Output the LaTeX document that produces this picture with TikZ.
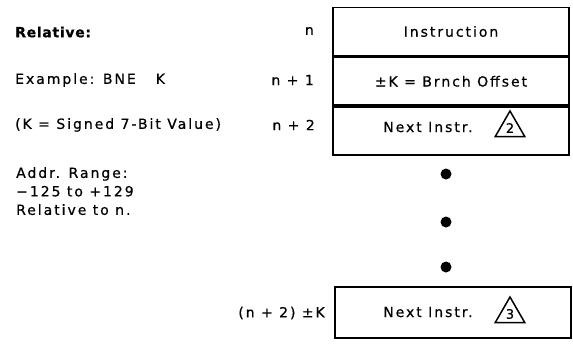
\documentclass[tikz,border=0pt]{standalone}
\usepackage{fontspec}
\setmainfont{DejaVu Sans}[LetterSpace=14, FakeBold=0.6]
\usetikzlibrary{positioning, shapes.geometric}

\begin{document}
\begin{tikzpicture}[x=1pt, y=-1pt,
    font=\fontsize{14}{17}\selectfont,
    cell/.style={rectangle, draw, line width=1.8pt, minimum width=236pt, minimum height=48pt, inner sep=0pt},
    note/.style={anchor=west, inner sep=0pt},
    addr/.style={anchor=east, inner sep=0pt},
    tri/.style={regular polygon, regular polygon sides=3, draw, line width=1.5pt, minimum size=34pt, inner sep=0pt, font=\fontsize{13}{13}\selectfont},
    dot/.style={circle, fill, minimum size=11pt, inner sep=0pt}
]
\useasboundingbox (0,0) rectangle (573,349);

% memory cells
\node[cell] (instr) at (451,31.5) {Instruction};
\node[cell, below=0pt of instr] (offset) {±K = Brnch Offset};
\node[cell, below=0pt of offset] (next) {};
\node[cell, minimum height=51pt] (target) at (453,312.5) {};

\node[inner sep=0pt] (nexttxt) at (428,127) {Next Instr.};
\node[tri] (tri2) at (510,128) {2};
\node[inner sep=0pt] (targettxt) at (428,312) {Next Instr.};
\node[tri] (tri3) at (510,314) {3};

% continuation dots
\foreach \y [count=\i] in {174,222,267}
  \node[dot] (dot\i) at (446,\y) {};

% addresses
\node[addr] (an) at (314,31) {n};
\node[addr] (an1) at (314,80) {n + 1};
\node[addr] (an2) at (315,125) {n + 2};
\node[addr] (ak) at (325,313) {(n + 2) ±K};

% description
\node[note, font=\fontsize{14}{17}\bfseries\addfontfeatures{LetterSpace=5}] (title) at (15,32) {Relative:};
\node[note] (example) at (15,80) {Example: BNE\hspace{20pt}K};
\node[note] (kval) at (15,125) {(K = Signed 7-Bit Value)};
\node[note, align=left, anchor=north west, font=\fontsize{14}{18.5}\selectfont] (range) at (16,167)
  {Addr. Range:\\−125 to +129\\Relative to n.};

\end{tikzpicture}
\end{document}
